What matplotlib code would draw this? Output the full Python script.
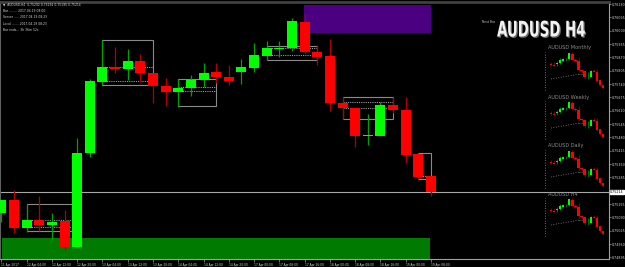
import numpy as np
import matplotlib
matplotlib.use("Agg")
import matplotlib.pyplot as plt
import matplotlib.patheffects as pe
from matplotlib.colors import to_rgba
from matplotlib.patches import Rectangle
from matplotlib.transforms import Affine2D

# AUDUSD H4 candles (11 Apr 20:00 .. 19 Apr 08:00)
opens = [0.75112, 0.75175, 0.75039, 0.75078, 0.75053, 0.75073, 0.74946, 0.75404, 0.75750, 0.75823,
         0.75814, 0.75853, 0.75794, 0.75731, 0.75702, 0.75721, 0.75760, 0.75799, 0.75775, 0.75799,
         0.75818, 0.75877, 0.75911, 0.75916, 0.76043, 0.75897, 0.75877, 0.75648, 0.75624, 0.75487,
         0.75487, 0.75638, 0.75614, 0.75399, 0.75292]
highs = [0.75175, 0.75224, 0.75156, 0.75195, 0.75112, 0.75126, 0.75477, 0.75765, 0.75955, 0.75921,
         0.75911, 0.75887, 0.75794, 0.75770, 0.75765, 0.75784, 0.75843, 0.75843, 0.75833, 0.75862,
         0.75940, 0.75950, 0.75950, 0.76062, 0.76082, 0.75931, 0.75960, 0.75677, 0.75624, 0.75594,
         0.75653, 0.75677, 0.75677, 0.75404, 0.75292]
lows = [0.75068, 0.75014, 0.75019, 0.75024, 0.74980, 0.74931, 0.74941, 0.75385, 0.75736, 0.75794,
        0.75760, 0.75750, 0.75648, 0.75633, 0.75628, 0.75682, 0.75726, 0.75745, 0.75736, 0.75741,
        0.75799, 0.75858, 0.75872, 0.75901, 0.75892, 0.75833, 0.75609, 0.75570, 0.75433, 0.75443,
        0.75487, 0.75599, 0.75355, 0.75273, 0.75195]
closes = [0.75175, 0.75039, 0.75078, 0.75053, 0.75068, 0.74946, 0.75404, 0.75755, 0.75823, 0.75814,
          0.75853, 0.75794, 0.75731, 0.75702, 0.75721, 0.75760, 0.75794, 0.75775, 0.75755, 0.75823,
          0.75882, 0.75916, 0.75916, 0.76048, 0.75897, 0.75872, 0.75648, 0.75624, 0.75487, 0.75492,
          0.75638, 0.75614, 0.75394, 0.75287, 0.75214]

# time axis labels, one every two bars
time_ticks = list(range(0, 35, 2))
time_labels = ["11 Apr 2017", "12 Apr 04:00", "12 Apr 12:00", "12 Apr 20:00", "13 Apr 04:00",
               "13 Apr 12:00", "13 Apr 20:00", "14 Apr 04:00", "14 Apr 12:00", "14 Apr 20:00",
               "17 Apr 00:00", "17 Apr 08:00", "17 Apr 16:00", "18 Apr 00:00", "18 Apr 08:00",
               "18 Apr 16:00", "19 Apr 00:00", "19 Apr 08:00"]

# price scale labels
price_labels = [0.76130 - 0.00065 * k for k in range(20)]

# session boxes: start bar, end bar, top, bottom, dotted levels
box_start = [2, 8, 14, 21, 27, 33]
box_end = [6, 12, 17, 25, 31, 34]
box_top = [0.75156, 0.75955, 0.75765, 0.75926, 0.75677, 0.75404]
box_bottom = [0.75024, 0.75736, 0.75633, 0.75858, 0.75570, 0.75277]
box_dots = [[0.75078, 0.75044], [0.75823, 0.75755], [0.75726, 0.75707],
            [0.75916, 0.75882], [0.75653, 0.75624], [0.75292]]

# supply / demand zones: start bar, end bar, top, bottom
demand_zone = [0.05, 33.92, 0.74990, 0.74870]
supply_zone = [23.95, 34.0, 0.76126, 0.75989]

# mini panels on the right
mini_names = ["AUDUSD Monthly", "AUDUSD Weekly", "AUDUSD Daily", "AUDUSD H4"]
mini_tops = [48, 97, 146, 194]
mini_first = 17
mini_trend = [0.75435, 0.75555]

BULL, BEAR = "#00ff00", "#ff0000"
BULL_WICK, BEAR_WICK = "#00a000", "#b00000"
GREY = "#8c8c8c"

W, H = 625, 267
fig = plt.figure(figsize=(6.25, 2.67), dpi=100, facecolor="black")


def fx(px):
    return px / W


def fy(py):
    return 1 - py / H


class Squeeze(pe.AbstractPathEffect):
    # narrow the glyphs horizontally around x0 (display pixels)
    def __init__(self, sx, x0, offset=(0, 0), color=None):
        super().__init__(offset)
        self.sx, self.x0 = sx, x0
        self.color = to_rgba(color) if color else None

    def draw_path(self, renderer, gc, tpath, affine, rgbFace=None):
        dx, dy = (renderer.points_to_pixels(o) for o in self._offset)
        t = (affine + Affine2D().translate(-self.x0, 0).scale(self.sx, 1)
             .translate(self.x0 + dx, dy))
        renderer.draw_path(gc, tpath, t, self.color if self.color else rgbFace)


def draw_candles(a, o, h, l, c, width, lw):
    o, h, l, c = map(np.asarray, (o, h, l, c))
    x = np.arange(len(o))
    up = c >= o
    a.vlines(x, l, h, colors=[BULL_WICK if u else BEAR_WICK for u in up], lw=lw, zorder=3)
    a.bar(x, np.maximum(np.abs(c - o), 0.00002), bottom=np.minimum(o, c), width=width,
          color=[BULL if u else BEAR for u in up], linewidth=0, zorder=4)


ax = fig.add_axes([0.0, 8 / H, 609 / W, 257 / H])
ax.set_facecolor("black")
ax.set_xlim(-0.108, 48.09)
ax.set_ylim(0.74887, 0.76140)

for z, col in ((demand_zone, "#007a00"), (supply_zone, "#4b0082")):
    ax.add_patch(Rectangle((z[0], z[3]), z[1] - z[0], z[2] - z[3], color=col, lw=0, zorder=1))

for s, e, t, b, dots in zip(box_start, box_end, box_top, box_bottom, box_dots):
    ax.add_patch(Rectangle((s, b), e - s, t - b, fill=False, ec="#8a8a8a", lw=0.8, zorder=2))
    for d in dots:
        ax.plot([s, e], [d, d], color="#9a9a9a", lw=0.8, ls=(0, (1, 1)), zorder=2)

draw_candles(ax, opens, highs, lows, closes, 0.79, 0.9)

last = closes[-1]
ax.axhline(last, color="#a8a8a8", lw=0.8, zorder=2)

ax.yaxis.tick_right()
yt = [p for p in price_labels if abs(p - last) > 0.0002]
ax.set_yticks(yt)
ax.set_yticklabels([f"{p:.5f}" for p in yt])
ax.set_xticks(time_ticks)
ax.set_xticklabels(time_labels, ha="left")
ax.tick_params(axis="y", colors="#a0a0a0", labelcolor="#d8d8d8", labelsize=2.3,
               length=1.5, width=0.5, pad=0.3)
ax.tick_params(axis="x", colors="#a0a0a0", labelcolor="#d8d8d8", labelsize=2.1,
               length=2, width=0.5, pad=1)
ax.text(1.002, last, f"{last:.5f}", transform=ax.get_yaxis_transform(), fontsize=2.3,
        color="black", va="center", ha="left",
        bbox=dict(boxstyle="square,pad=0.1", fc="white", ec="white"))
for side, col, lw in (("left", "#606060", 1.5), ("right", "#a0a0a0", 0.8),
                      ("bottom", "#a0a0a0", 0.8), ("top", "#404040", 2.0)):
    ax.spines[side].set_color(col)
    ax.spines[side].set_linewidth(lw)

# info block top left
info = [f"\u25bc  AUDUSD,H4  {opens[-1]:.5f} {highs[-1]:.5f} {lows[-1]:.5f} {closes[-1]:.5f}",
        "Bar ........ 2017.04.19 08:00",
        "Server ..... 2017.04.19 08:23",
        "Local ....... 2017.04.19 08:23",
        "Bar ends... 3h 36m 52s"]
for i, line in enumerate(info):
    fig.text(fx(3), fy(5 + i * 6.2), line, fontsize=2.2, color="#d8d8d8", va="center")

fig.text(fx(482), fy(22), "Next Bar", fontsize=2.2, color="#c0c0c0", va="center")
fig.text(fx(497), fy(30.5), "AUDUSD H4", fontsize=15.5, fontweight="bold",
         color="#f2f2f2", va="center",
         path_effects=[Squeeze(0.62, 497, offset=(0.9, -0.9), color="#6a6a6a"),
                       Squeeze(0.62, 497)])

for name, top in zip(mini_names, mini_tops):
    axm = fig.add_axes([fx(543), fy(top + 43), 63 / W, 40 / H])
    axm.set_axis_off()
    axm.patch.set_alpha(0)
    axm.set_xlim(-2.61, 17.98)
    axm.set_ylim(0.75147, 0.76106)
    draw_candles(axm, opens[mini_first:], highs[mini_first:], lows[mini_first:],
                 closes[mini_first:], 0.75, 0.5)
    axm.plot([-1.96, -1.96], [0.75160, 0.76080], color=GREY, lw=0.6, ls=(0, (1, 2)))
    axm.plot([0, 9.5], mini_trend, color=GREY, lw=0.6, ls=(0, (1, 2)))
    axm.plot([9, 11], [mini_trend[1]] * 2, color=GREY, lw=0.6, ls=(0, (1, 1.5)))
    fig.text(fx(548), fy(top), name, fontsize=3.6, color="#8c8c8c", va="center")

fig.savefig("out.png", dpi=100, facecolor="black")
